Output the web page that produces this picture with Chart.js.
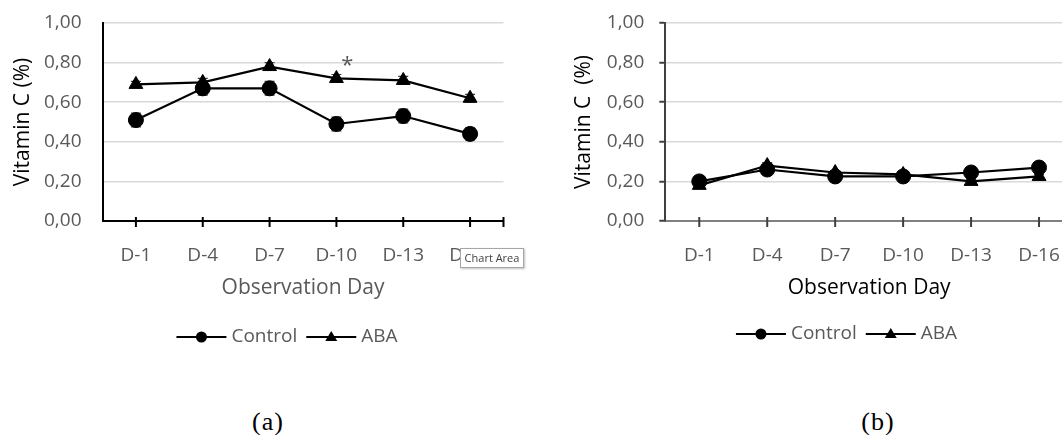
<!DOCTYPE html>
<html>
<head>
<meta charset="utf-8">
<script src="https://cdn.jsdelivr.net/npm/chart.js@4"></script>
<style>
  html, body { margin: 0; padding: 0; background: #fff; overflow: hidden; }
  #page { position: relative; width: 1062px; height: 435px; overflow: hidden; background: #fff; }
  canvas { position: absolute; top: 0; }
  #chartA { left: 0; }
  #chartB { left: 531px; }
  .caption { position: absolute; top: 408px; width: 100px; text-align: center; line-height: 28px;
             font-family: 'Liberation Serif', 'DejaVu Serif', serif; font-size: 26px; letter-spacing: 1px; color: #000; }
  #tip { position: absolute; left: 460px; top: 248px; width: 62px; height: 18px; background: #fff;
         border: 1px solid #a6a6a6; box-shadow: 1px 1px 2px rgba(0,0,0,0.25);
         font-family: 'Open Sans', sans-serif; font-size: 11px; line-height: 18px; color: #404040; text-align: center; }
</style>
</head>
<body>
<div id="page">
  <canvas id="chartA" width="531" height="360"></canvas>
  <canvas id="chartB" width="566" height="360"></canvas>
  <div id="tip">Chart Area</div>
  <div class="caption" style="left:218px">(a)</div>
  <div class="caption" style="left:828px">(b)</div>
</div>
<script>
// observation days
const days = ['D-1', 'D-4', 'D-7', 'D-10', 'D-13', 'D-16'];
const yTicks = [0, 0.2, 0.4, 0.6, 0.8, 1.0];

// (a)
const controlA = [0.51, 0.67, 0.67, 0.49, 0.53, 0.44];
const controlErrA = [0.035, 0.035, 0.035, 0.035, 0.035, 0.03];
const abaA = [0.69, 0.70, 0.78, 0.72, 0.71, 0.62];
const abaErrA = [0.015, 0.02, 0.02, 0.02, 0.02, 0.02];
const sigA = ['', '', '', '*', '', ''];

// (b)
const controlB = [0.20, 0.26, 0.225, 0.225, 0.245, 0.27];
const controlErrB = [0.01, 0.01, 0.01, 0.01, 0.01, 0.01];
const abaB = [0.18, 0.28, 0.245, 0.235, 0.20, 0.225];
const abaErrB = [0.01, 0.015, 0.01, 0.01, 0.01, 0.01];

Chart.defaults.font.family = "'Open Sans', sans-serif";
Chart.defaults.animation = false;

const fmt = (v) => v.toFixed(2).replace('.', ',');

//draws the error bars behind the markers
const errorBars = {
    id: 'errorBars',
    beforeDatasetsDraw(chart) {
        const ctx = chart.ctx;
        const x = chart.scales.x, y = chart.scales.y;
        ctx.save();
        ctx.strokeStyle = '#404040';
        ctx.lineWidth = 1.2;
        chart.data.datasets.forEach((ds) => {
            ds.data.forEach((v, i) => {
                const e = ds.errors ? ds.errors[i] : 0;
                const px = x.getPixelForValue(i);
                const lo = y.getPixelForValue(v - e), hi = y.getPixelForValue(v + e);
                ctx.beginPath();
                ctx.moveTo(px, lo);
                ctx.lineTo(px, hi);
                ctx.moveTo(px - 5, lo);
                ctx.lineTo(px + 5, lo);
                ctx.moveTo(px - 5, hi);
                ctx.lineTo(px + 5, hi);
                ctx.stroke();
            });
        });
        ctx.restore();
    },
    //significance star above the point
    afterDatasetsDraw(chart) {
        const ctx = chart.ctx;
        const x = chart.scales.x, y = chart.scales.y;
        ctx.save();
        ctx.fillStyle = '#595959';
        ctx.font = "22px 'Open Sans'";
        ctx.textAlign = 'center';
        ctx.textBaseline = 'alphabetic';
        chart.data.datasets.forEach((ds) => {
            if (!ds.sig) return;
            ds.sig.forEach((s, i) => {
                if (!s) return;
                const e = ds.errors ? ds.errors[i] : 0;
                ctx.fillText(s, x.getPixelForValue(i) + 11, y.getPixelForValue(ds.data[i] + e) - 2);
            });
        });
        ctx.restore();
    }
};

//tick marks crossing the x axis, plus one at the end of the axis
const tickMarks = {
    id: 'tickMarks',
    afterDraw(chart, args, opts) {
        const ctx = chart.ctx;
        const x = chart.scales.x;
        const b = chart.chartArea.bottom;
        ctx.save();
        ctx.strokeStyle = opts.color;
        ctx.lineWidth = 2;
        ctx.beginPath();
        for (let i = 0; i < days.length; i++) {
            const px = x.getPixelForTick(i);
            ctx.moveTo(px, b - 4);
            ctx.lineTo(px, b + 6);
        }
        ctx.moveTo(chart.chartArea.right, b - 4);
        ctx.lineTo(chart.chartArea.right, b + 6);
        ctx.stroke();
        ctx.restore();
    }
};

//legend with a line and marker like in excel
const lineLegend = {
    id: 'lineLegend',
    afterDraw(chart, args, opts) {
        const ctx = chart.ctx;
        ctx.save();
        ctx.font = "19px 'Open Sans'";
        ctx.textBaseline = 'middle';
        const items = chart.data.datasets.map((ds) => ({ ds: ds, w: ctx.measureText(ds.label).width }));
        let total = 0;
        items.forEach((it, i) => total += 50 + 5 + it.w + (i ? 9 : 0));
        let x = opts.centerX - total / 2;
        const y = opts.y;
        items.forEach((it, i) => {
            if (i) x += 9;
            ctx.strokeStyle = '#000';
            ctx.fillStyle = '#000';
            ctx.lineWidth = 2;
            ctx.beginPath();
            ctx.moveTo(x, y);
            ctx.lineTo(x + 50, y);
            ctx.stroke();
            ctx.beginPath();
            if (it.ds.pointStyle === 'triangle') {
                ctx.moveTo(x + 25, y - 6);
                ctx.lineTo(x + 31, y + 4);
                ctx.lineTo(x + 19, y + 4);
                ctx.closePath();
            } else {
                ctx.arc(x + 25, y, 5.5, 0, Math.PI * 2);
            }
            ctx.fill();
            ctx.fillStyle = '#595959';
            ctx.fillText(it.ds.label, x + 55, y);
            x += 55 + it.w;
        });
        ctx.restore();
    }
};

function makeDatasets(ctrl, ctrlErr, aba, abaErr, sig) {
    return [{
        label: 'Control',
        data: ctrl,
        errors: ctrlErr,
        borderColor: '#000',
        backgroundColor: '#000',
        borderWidth: 2.2,
        pointStyle: 'circle',
        pointRadius: 7.5,
        pointBorderWidth: 1,
        tension: 0
    }, {
        label: 'ABA',
        data: aba,
        errors: abaErr,
        sig: sig,
        borderColor: '#000',
        backgroundColor: '#000',
        borderWidth: 2.2,
        pointStyle: 'triangle',
        pointRadius: 8,
        pointBorderWidth: 1,
        tension: 0
    }];
}

function makeConfig(p) {
    return {
        type: 'line',
        data: { labels: days, datasets: p.datasets },
        plugins: [errorBars, tickMarks, lineLegend],
        options: {
            responsive: false,
            devicePixelRatio: 1,
            layout: { padding: { left: 0, right: p.padRight, top: 23, bottom: 59 } },
            plugins: {
                legend: { display: false },
                tooltip: { enabled: false },
                tickMarks: { color: p.axisColor },
                lineLegend: { centerX: p.legendX, y: p.legendY }
            },
            scales: {
                x: {
                    type: 'category',
                    offset: true,
                    grid: { display: false },
                    border: { display: true, color: p.xAxisColor, width: 2 },
                    ticks: { color: '#595959', font: { size: 19 }, padding: 15 },
                    title: {
                        display: true, text: 'Observation Day', color: p.xTitleColor,
                        font: { size: 21 }, padding: { top: 0, bottom: 0 }
                    },
                    afterFit: (scale) => { scale.height = 80; }
                },
                y: {
                    min: 0,
                    max: 1,
                    afterBuildTicks: (scale) => { scale.ticks = yTicks.map((v) => ({ value: v })); },
                    grid: {
                        color: '#d9d9d9', lineWidth: 1.5,
                        drawTicks: p.yTickLen > 0, tickLength: p.yTickLen,
                        tickColor: p.axisColor, tickWidth: 2
                    },
                    border: { display: true, color: p.axisColor, width: 2 },
                    ticks: { color: '#595959', font: { size: 19 }, padding: p.yPad, callback: (v) => fmt(v) },
                    title: {
                        display: true, text: p.yTitle, color: p.yTitleColor,
                        font: { size: 21 }, padding: { top: p.yTitlePad, bottom: 0 }
                    },
                    afterFit: (scale) => {
                        scale.width = p.yWidth;
                        scale.paddingTop = 0;
                        scale.paddingBottom = 0;
                    }
                }
            }
        }
    };
}

new Chart(document.getElementById('chartA'), makeConfig({
    datasets: makeDatasets(controlA, controlErrA, abaA, abaErrA, sigA),
    padRight: 27.5, yWidth: 102.5, yPad: 21, yTickLen: 0, yTitlePad: 10,
    yTitle: 'Vitamin C (%)', yTitleColor: '#000', xTitleColor: '#595959',
    axisColor: '#000', xAxisColor: '#000', legendX: 287, legendY: 337
}));

new Chart(document.getElementById('chartB'), makeConfig({
    datasets: makeDatasets(controlB, controlErrB, abaB, abaErrB, null),
    padRight: 24, yWidth: 134.3, yPad: 15, yTickLen: 6, yTitlePad: 40,
    yTitle: 'Vitamin C  (%)', yTitleColor: '#000', xTitleColor: '#000',
    axisColor: '#404040', xAxisColor: '#808080', legendX: 315.5, legendY: 334
}));
</script>
</body>
</html>
